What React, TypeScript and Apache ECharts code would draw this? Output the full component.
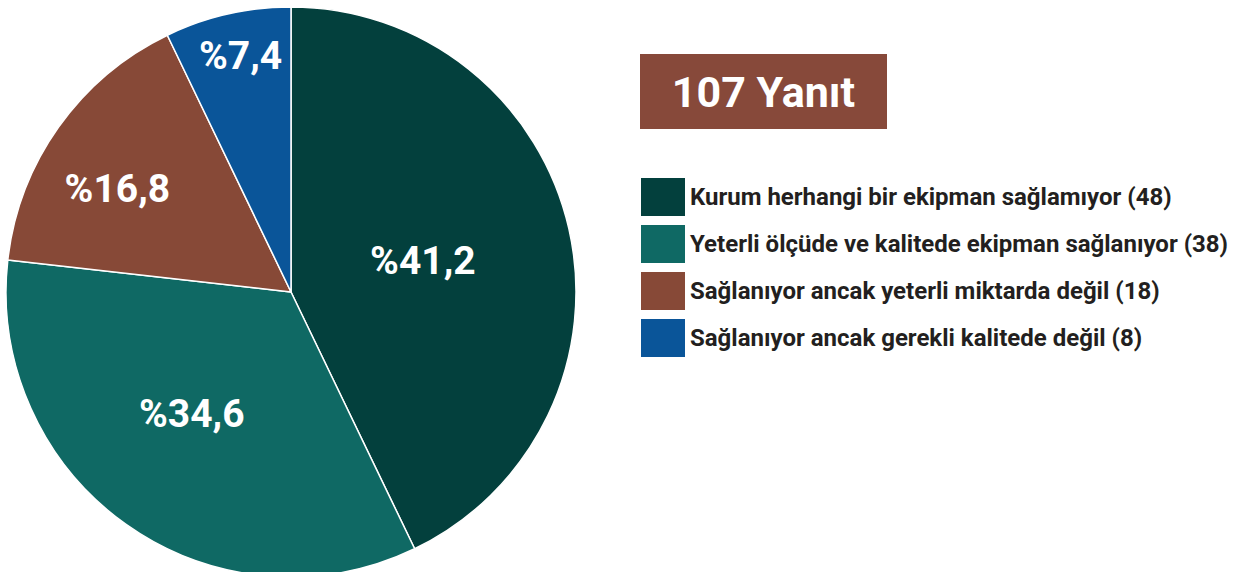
import React, { useEffect, useRef } from "react";
import * as echarts from "echarts";

const categories = [
  "Kurum herhangi bir ekipman sağlamıyor",
  "Yeterli ölçüde ve kalitede ekipman sağlanıyor",
  "Sağlanıyor ancak yeterli miktarda değil",
  "Sağlanıyor ancak gerekli kalitede değil",
];
const counts = [48, 38, 18, 8];
const percentLabels = ["%41,2", "%34,6", "%16,8", "%7,4"];
const colors = ["#03403d", "#0f6964", "#874937", "#0a5599"];
const totalResponses = 107;
// label shifts away from the default inside position (style only)
const labelShift = [
  [-10, 1],
  [-15, 3],
  [-55, -19],
  [-18, -94],
];

export default function App() {
  const ref = useRef<HTMLDivElement>(null);
  useEffect(() => {
    document.body.style.margin = "0";
    const chart = echarts.init(ref.current!, null, { renderer: "svg" });
    chart.setOption({
      animation: false,
      textStyle: { fontFamily: "Roboto" },
      legend: {
        orient: "vertical",
        left: 634,
        top: 171,
        icon: "rect",
        itemWidth: 46,
        itemHeight: 40,
        itemGap: 5,
        selectedMode: false,
        data: categories,
        formatter: (name: string) => `${name} (${counts[categories.indexOf(name)]})`,
        textStyle: {
          fontFamily: "Roboto",
          fontWeight: "bold",
          fontSize: 24,
          lineHeight: 28,
          color: "#231f20",
          padding: [0, 0, 0, -1],
        },
      },
      graphic: [
        {
          type: "group",
          left: 640,
          top: 54,
          children: [
            {
              type: "rect",
              shape: { x: 0, y: 0, width: 247, height: 75 },
              style: { fill: "#87493a" },
            },
            {
              type: "text",
              x: 123.5,
              y: 38,
              style: {
                text: `${totalResponses} Yanıt`,
                fill: "#ffffff",
                font: "bold 43px Roboto",
                align: "center",
                verticalAlign: "middle",
              },
            },
          ],
        },
      ],
      series: [
        {
          type: "pie",
          center: [291, 292],
          radius: [0, 285],
          startAngle: 90,
          clockwise: true,
          color: colors,
          itemStyle: { borderColor: "#ffffff", borderWidth: 1.5 },
          label: {
            show: true,
            position: "inside",
            formatter: (p: any) => percentLabels[p.dataIndex],
            color: "#ffffff",
            fontFamily: "Roboto",
            fontWeight: "bold",
            fontSize: 39,
          },
          labelLine: { show: false },
          emphasis: { disabled: true },
          labelLayout: (p: any) => ({
            dx: labelShift[p.dataIndex][0],
            dy: labelShift[p.dataIndex][1],
          }),
          data: categories.map((name, i) => ({ name, value: counts[i] })),
        },
      ],
    });
    return () => chart.dispose();
  }, []);
  return (
    <div
      ref={ref}
      style={{ position: "absolute", left: 0, top: 0, width: 1239, height: 572 }}
    />
  );
}
